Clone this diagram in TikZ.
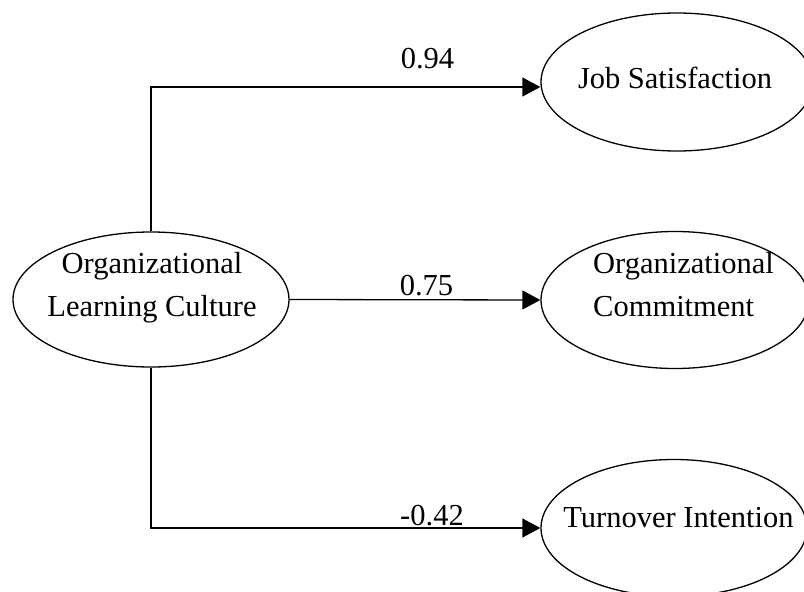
\documentclass[tikz,border=0pt]{standalone}
\usepackage{fontspec}
\setmainfont{Liberation Serif}
\usetikzlibrary{arrows.meta,shapes.geometric}
\begin{document}
\begin{tikzpicture}[x=1pt,y=-1pt,
  ell/.style={draw, ellipse, line width=1.3pt, inner sep=0pt},
  bigell/.style={ell, minimum width=266pt, minimum height=137pt},
  txt/.style={inner sep=0pt, font=\fontsize{30.5}{43}\selectfont},
  arr/.style={line width=1.3pt, -{Triangle[length=18pt,width=19pt]}}]
\useasboundingbox (0,0) rectangle (804,592);
% ellipses
\node[ell, minimum width=276pt, minimum height=135pt] (olc) at (151,299.5) {};
\node[bigell, minimum width=272pt, minimum height=138pt] (js) at (677,82) {};
\node[bigell, minimum width=268pt] (oc) at (675,300) {};
\node[bigell] (ti) at (674,528) {};
% texts
\node[txt, align=center, anchor=center] (olct) at (152,288) {Organizational\\Learning Culture};
\node[txt, anchor=base] (jst) at (675,88) {Job Satisfaction};
\node[txt, align=left, anchor=west] (oct) at (593,285) {Organizational\\Commitment};
\node[txt, anchor=base] (tit) at (678.5,527) {Turnover Intention};
% connectors
\draw[arr] (olc.north) |- ([yshift=-5pt]js.west);
\draw[arr] (olc.east) -- (oc.west);
\draw[arr] (olc.south) |- (ti.west);
% labels
\node[txt, anchor=base] (l1) at (427.5,68) {0.94};
\node[txt, anchor=base] (l2) at (426.5,295) {0.75};
\node[txt, anchor=base] (l3) at (432,525) {-0.42};
\end{tikzpicture}
\end{document}
